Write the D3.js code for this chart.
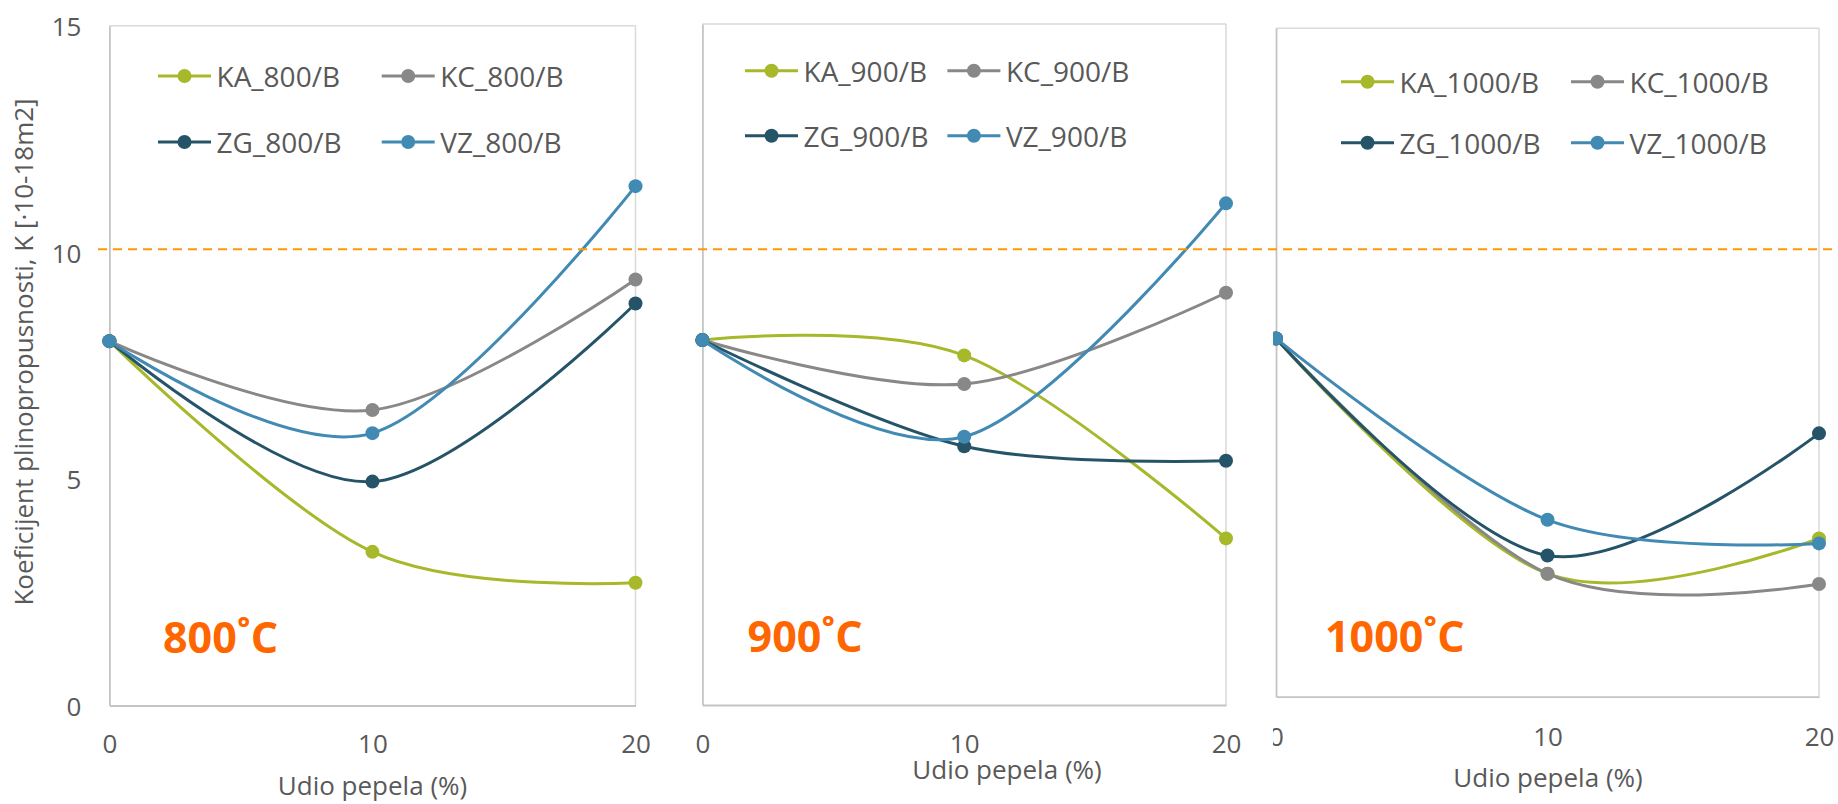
<!DOCTYPE html>
<html>
<head>
<meta charset="utf-8">
<script src="https://cdn.jsdelivr.net/npm/d3@7"></script>
<style>
  html, body { margin: 0; padding: 0; background: #fff; }
  svg { display: block; font-family: "Open Sans", sans-serif; }
</style>
</head>
<body>
<svg id="chart" width="1838" height="804"></svg>
<script>
// ---------------- DATA ----------------
const xValues = [0, 10, 20];               // Udio pepela (%)
const xTicks = [0, 10, 20];
const yTicks = [0, 5, 10, 15];
const temperatures = ["800", "900", "1000"];
const seriesCodes = ["KA", "KC", "ZG", "VZ"];
const threshold = 10.07;

const KA_800 = [8.04, 3.39, 2.71];
const KC_800 = [8.04, 6.52, 9.40];
const ZG_800 = [8.04, 4.94, 8.87];
const VZ_800 = [8.04, 6.01, 11.46];

const KA_900 = [8.04, 7.70, 3.67];
const KC_900 = [8.04, 7.07, 9.08];
const ZG_900 = [8.04, 5.70, 5.38];
const VZ_900 = [8.04, 5.91, 11.05];

const KA_1000 = [8.04, 2.76, 3.55];
const KC_1000 = [8.04, 2.76, 2.53];
const ZG_1000 = [8.04, 3.17, 5.91];
const VZ_1000 = [8.04, 3.97, 3.44];

const panelData = {
  "800":  { KA: KA_800,  KC: KC_800,  ZG: ZG_800,  VZ: VZ_800 },
  "900":  { KA: KA_900,  KC: KC_900,  ZG: ZG_900,  VZ: VZ_900 },
  "1000": { KA: KA_1000, KC: KC_1000, ZG: ZG_1000, VZ: VZ_1000 }
};

// ---------------- STYLE / LAYOUT ----------------
const colors = { KA: "#a7b82b", KC: "#888888", ZG: "#255469", VZ: "#418ab4" };
const textColor = "#595959";

const layouts = [
  { left: 109.4, right: 635.5, top: 25.7, bottom: 705.5, clip: [0, 651],
    showY: true, tickY: 743, titleX: 372.5, titleY: 795,
    tempX: 163, tempY: 653,
    legRows: [76, 142], legCols: [158, 381.7] },
  { left: 702.4, right: 1226, top: 24, bottom: 705, clip: [651, 1273],
    showY: false, tickY: 743, titleX: 1007, titleY: 779,
    tempX: 747.6, tempY: 652,
    legRows: [70.7, 135.7], legCols: [745, 947.4] },
  { left: 1276, right: 1819, top: 28.3, bottom: 696.7, clip: [1273, 1838],
    showY: false, tickY: 736, titleX: 1548, titleY: 787,
    tempX: 1325, tempY: 652,
    legRows: [81.7, 142.7], legCols: [1341, 1571] }
];

const svg = d3.select("#chart");
const defs = svg.append("defs");

temperatures.forEach((temp, i) => {
  const L = layouts[i];
  const clipId = "clip" + temp;
  defs.append("clipPath").attr("id", clipId)
    .append("rect").attr("x", L.clip[0]).attr("y", 0)
    .attr("width", L.clip[1] - L.clip[0]).attr("height", 804);

  const g = svg.append("g").attr("clip-path", `url(#${clipId})`);

  const x = d3.scaleLinear().domain([0, 20]).range([L.left, L.right]);
  const y = d3.scaleLinear().domain([0, 15]).range([L.bottom, L.top]);

  // plot frame
  g.append("line").attr("x1", L.left).attr("x2", L.right).attr("y1", L.top).attr("y2", L.top)
    .attr("stroke", "#d9d9d9").attr("stroke-width", 1.5);
  g.append("line").attr("x1", L.right).attr("x2", L.right).attr("y1", L.top).attr("y2", L.bottom)
    .attr("stroke", "#d9d9d9").attr("stroke-width", 1.5);

  // axes
  const xAxis = d3.axisBottom(x).tickValues(xTicks).tickSize(0).tickPadding(0).tickFormat(d3.format("d"));
  const xg = g.append("g").attr("transform", `translate(0,${L.bottom})`).call(xAxis);
  xg.select(".domain").attr("stroke", "#c4c4c4").attr("stroke-width", 1.8);
  xg.selectAll("text").attr("fill", textColor).attr("font-size", 26)
    .attr("font-family", "Open Sans").attr("dy", null)
    .attr("y", L.tickY - L.bottom).attr("dominant-baseline", "central");

  const yAxis = d3.axisLeft(y).tickValues(yTicks).tickSize(0).tickPadding(28).tickFormat(d3.format("d"));
  const yg = g.append("g").attr("transform", `translate(${L.left},0)`).call(yAxis);
  yg.select(".domain").attr("stroke", "#c4c4c4").attr("stroke-width", 1.8);
  yg.selectAll("text").attr("fill", textColor).attr("font-size", 26)
    .attr("font-family", "Open Sans").attr("dy", null).attr("dominant-baseline", "central")
    .style("display", L.showY ? null : "none");

  // x-axis title
  g.append("text").attr("x", L.titleX).attr("y", L.titleY)
    .attr("text-anchor", "middle").attr("fill", textColor).attr("font-size", 26)
    .text("Udio pepela (%)");

  // series lines
  const line = d3.line()
    .x((d, j) => x(xValues[j]))
    .y(d => y(d))
    .curve(d3.curveCardinal.tension(0));

  seriesCodes.forEach(code => {
    const vals = panelData[temp][code];
    g.append("path").datum(vals).attr("d", line)
      .attr("fill", "none").attr("stroke", colors[code]).attr("stroke-width", 3)
      .attr("stroke-linecap", "round");
  });
  seriesCodes.forEach(code => {
    const vals = panelData[temp][code];
    g.selectAll(null).data(vals).enter().append("circle")
      .attr("cx", (d, j) => x(xValues[j])).attr("cy", d => y(d))
      .attr("r", 7).attr("fill", colors[code]);
  });

  // temperature label
  g.append("text").attr("x", L.tempX).attr("y", L.tempY)
    .attr("fill", "#ff6600").attr("font-size", 43).attr("font-weight", "bold")
    .text(temp + "˚C");

  // legend
  seriesCodes.forEach((code, k) => {
    const row = Math.floor(k / 2), col = k % 2;
    const lx = L.legCols[col], ly = L.legRows[row];
    g.append("line").attr("x1", lx).attr("x2", lx + 53).attr("y1", ly).attr("y2", ly)
      .attr("stroke", colors[code]).attr("stroke-width", 3);
    g.append("circle").attr("cx", lx + 26.5).attr("cy", ly).attr("r", 7).attr("fill", colors[code]);
    g.append("text").attr("x", lx + 58.5).attr("y", ly)
      .attr("dominant-baseline", "central").attr("fill", textColor).attr("font-size", 28)
      .text(`${code}_${temp}/B`);
  });
});

// y-axis title
svg.append("text")
  .attr("transform", "translate(33,352) rotate(-90)")
  .attr("text-anchor", "middle").attr("fill", textColor).attr("font-size", 26)
  .text("Koeficijent plinopropusnosti, K [·10-18m2]");

// threshold dashed line (spans all panels)
const yRef = d3.scaleLinear().domain([0, 15]).range([layouts[0].bottom, layouts[0].top]);
svg.append("line")
  .attr("x1", 98).attr("x2", 1838)
  .attr("y1", yRef(threshold)).attr("y2", yRef(threshold))
  .attr("stroke", "#ff9900").attr("stroke-width", 2).attr("stroke-dasharray", "9,6");
</script>
</body>
</html>
